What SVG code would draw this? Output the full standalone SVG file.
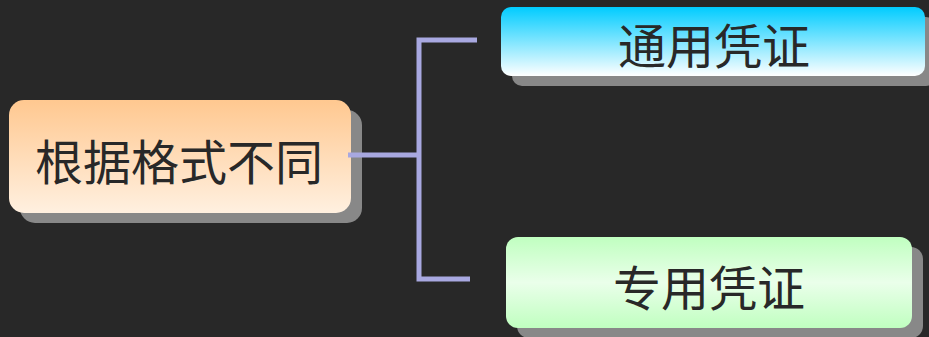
<svg xmlns="http://www.w3.org/2000/svg" width="929" height="337" viewBox="0 0 929 337">
<defs>
<linearGradient id="gOrange" x1="0" y1="0" x2="0" y2="1">
<stop offset="0" stop-color="#FFC890"/>
<stop offset="1" stop-color="#FFF0E0"/>
</linearGradient>
<linearGradient id="gBlue" x1="0" y1="0" x2="0" y2="1">
<stop offset="0" stop-color="#00CCFF"/>
<stop offset="1" stop-color="#FFFFFF"/>
</linearGradient>
<linearGradient id="gGreen" x1="0" y1="0" x2="0" y2="1">
<stop offset="0" stop-color="#C0FFC0"/>
<stop offset="0.5" stop-color="#EAFFEA"/>
<stop offset="1" stop-color="#C0FFC0"/>
</linearGradient>
</defs>
<style>
.shadow{fill:#888888}
.label{font-family:"Noto Sans CJK SC","Noto Sans",sans-serif;font-size:48px;fill:#282828;text-anchor:middle}
.conn{fill:none;stroke:#A8A8E0;stroke-width:5;stroke-linejoin:miter}
</style>
<rect width="929" height="337" fill="#282828"/>
<g id="node-root">
<rect class="shadow" x="20" y="110" width="342" height="113" rx="15"/>
<rect x="9" y="100" width="342" height="113" rx="15" fill="url(#gOrange)"/>
<text class="label" x="179" y="180">根据格式不同</text>
</g>
<g id="node-general">
<rect class="shadow" x="512" y="17" width="424" height="69" rx="10"/>
<rect x="501" y="7" width="424" height="69" rx="10" fill="url(#gBlue)"/>
<text class="label" x="714" y="64">通用凭证</text>
</g>
<g id="node-special">
<rect class="shadow" x="517" y="247" width="406" height="91" rx="12"/>
<rect x="506" y="237" width="406" height="91" rx="12" fill="url(#gGreen)"/>
<text class="label" x="709" y="306">专用凭证</text>
</g>
<g id="connectors">
<polyline class="conn" points="348,155 419,155"/>
<polyline class="conn" points="477,40 419,40 419,279 470,279"/>
</g>
</svg>
